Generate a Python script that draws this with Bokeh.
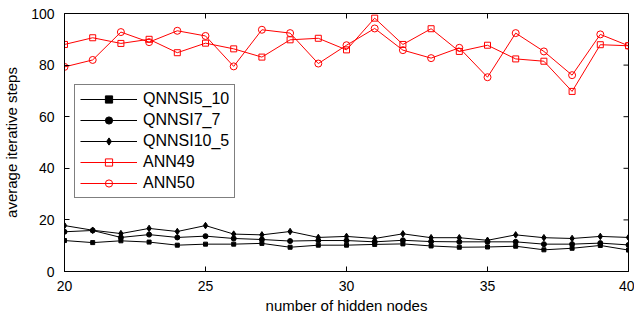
import math
from bokeh.plotting import figure
from bokeh.models import Range1d, FixedTicker, Legend, LegendItem
from bokeh.embed import file_html
from bokeh.resources import INLINE

nodes = list(range(20, 41))
qnnsi5_10 = [12.0, 11.2, 11.9, 11.4, 10.2, 10.6, 10.6, 10.9, 9.4, 10.2, 10.2,
             10.5, 10.7, 9.9, 9.4, 9.5, 9.8, 8.4, 9.0, 10.1, 8.3]
qnnsi7_7 = [15.4, 15.9, 13.2, 14.3, 13.2, 13.7, 12.8, 12.4, 11.8, 12.0, 12.0,
            11.5, 12.1, 11.6, 11.5, 11.5, 11.5, 10.6, 10.6, 11.0, 10.3]
qnnsi10_5 = [17.8, 16.0, 14.7, 16.7, 15.5, 17.8, 14.5, 14.2, 15.5, 13.2, 13.6,
             12.8, 14.6, 13.1, 13.1, 12.1, 14.2, 13.1, 12.8, 13.6, 13.2]
ann49 = [88.0, 90.6, 88.4, 90.0, 84.8, 88.5, 86.3, 83.1, 89.8, 90.4, 85.9,
         98.2, 88.0, 94.1, 85.3, 87.7, 82.4, 81.5, 69.8, 87.9, 87.5]
ann50 = [79.3, 82.0, 92.8, 88.9, 93.3, 91.3, 79.5, 93.7, 92.4, 80.6, 87.7,
         94.2, 85.8, 82.7, 86.7, 75.3, 92.4, 85.3, 76.1, 91.9, 87.5]
x_ticks = [20, 25, 30, 35, 40]
y_ticks = [0, 20, 40, 60, 80, 100]
x_min, x_max = 20, 40
y_min, y_max = 0, 100

FONT = "Liberation Sans"

p = figure(frame_width=564, frame_height=258, output_backend="svg",
           toolbar_location=None, x_range=Range1d(x_min, x_max), y_range=Range1d(y_min, y_max),
           min_border_left=54, min_border_top=13, min_border_right=6, min_border_bottom=40)
p.xgrid.visible = False
p.ygrid.visible = False
p.outline_line_color = "black"
p.outline_line_width = 1
p.background_fill_color = "white"

for ax, ticks in ((p.xaxis[0], x_ticks), (p.yaxis[0], y_ticks)):
    ax.ticker = FixedTicker(ticks=ticks)
    ax.major_tick_in = 5
    ax.major_tick_out = 0
    ax.minor_tick_line_color = None
    ax.axis_line_color = "black"
    ax.major_tick_line_color = "black"
    ax.major_label_text_font = FONT
    ax.major_label_text_font_size = "14px"
    ax.major_label_text_color = "black"
    ax.axis_label_text_font = FONT
    ax.axis_label_text_font_size = "15px"
    ax.axis_label_text_font_style = "normal"
    ax.axis_label_text_color = "black"

p.xaxis[0].axis_label = "number of hidden nodes"
p.yaxis[0].axis_label = "average iterative steps"
p.xaxis[0].major_label_standoff = 9
p.yaxis[0].major_label_standoff = 10
p.xaxis[0].axis_label_standoff = 3
p.yaxis[0].axis_label_standoff = 8

# mirrored inward ticks on the top and right edges of the box
p.ray(x=x_ticks, y=[y_max] * len(x_ticks), length=5, length_units="screen",
      angle=-math.pi / 2, line_color="black", line_width=1)
p.ray(x=[x_max] * len(y_ticks), y=y_ticks, length=5, length_units="screen",
      angle=math.pi, line_color="black", line_width=1)

RED = "#ff0000"
items = []
series = [
    ("QNNSI5_10", qnnsi5_10, "black", "square", 4, "black"),
    ("QNNSI7_7", qnnsi7_7, "black", "circle", 5, "black"),
    ("QNNSI10_5", qnnsi10_5, "black", "diamond", 6.5, "black"),
    ("ANN49", ann49, RED, "square", 6, None),
    ("ANN50", ann50, RED, "circle", 7, None),
]
for name, ys, col, marker, size, fill in series:
    l = p.line(nodes, ys, line_color=col, line_width=1)
    s = p.scatter(nodes, ys, marker=marker, size=size, line_color=col,
                  fill_color=fill, line_width=1)
    items.append(LegendItem(label=name, renderers=[l, s]))

legend = Legend(items=items, location=(10, 73))
legend.border_line_color = "black"
legend.border_line_width = 1
legend.label_text_font = FONT
legend.label_text_font_size = "16px"
legend.label_text_color = "black"
legend.glyph_width = 57
legend.glyph_height = 18
legend.label_height = 18
legend.spacing = 3
legend.padding = 5
legend.margin = 0
legend.label_standoff = 6
legend.background_fill_alpha = 1
p.add_layout(legend, "center")

open("out.html", "w").write(file_html(p, INLINE))
